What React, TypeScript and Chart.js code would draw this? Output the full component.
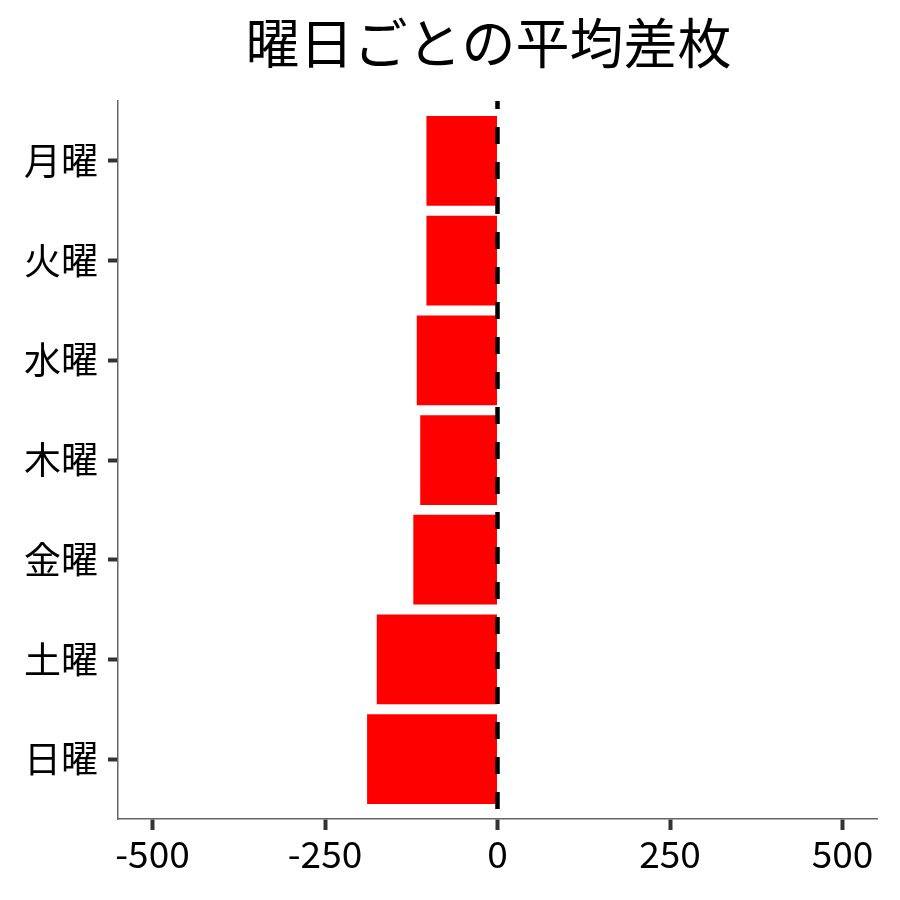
import React, { useEffect, useRef } from "react";
import { Chart, registerables } from "chart.js";

Chart.register(...registerables);

const TITLE = "曜日ごとの平均差枚";
const CATEGORIES = ["月曜", "火曜", "水曜", "木曜", "金曜", "土曜", "日曜"];
const VALUES = [-103, -103, -117, -112, -122, -175, -189];
const X_TICKS = [-500, -250, 0, 250, 500];
const X_MIN = -550;
const X_MAX = 550;
const REF_VALUE = 0;

const FONT = "'Noto Sans CJK JP', 'Noto Sans', sans-serif";

const refLinePlugin = {
  id: "refLine",
  afterDatasetsDraw(chart: any) {
    const { ctx, chartArea, scales } = chart;
    const x = scales.x.getPixelForValue(REF_VALUE);
    ctx.save();
    ctx.strokeStyle = "#000000";
    ctx.lineWidth = 4.5;
    ctx.setLineDash([17, 18]);
    ctx.lineDashOffset = 9;
    ctx.beginPath();
    ctx.moveTo(x, chartArea.top);
    ctx.lineTo(x, chartArea.bottom);
    ctx.stroke();
    ctx.restore();
  },
};

const panelTitlePlugin = {
  id: "panelTitle",
  afterDraw(chart: any) {
    const { ctx, chartArea } = chart;
    ctx.save();
    ctx.fillStyle = "#000000";
    ctx.font = `normal 54px ${FONT}`;
    ctx.textAlign = "center";
    ctx.textBaseline = "middle";
    ctx.fillText(TITLE, (chartArea.left + chartArea.right) / 2 - 9, 43);
    ctx.restore();
  },
};

export default function App() {
  const canvasRef = useRef<HTMLCanvasElement | null>(null);

  useEffect(() => {
    if (!canvasRef.current) return;
    const chart = new Chart(canvasRef.current, {
      type: "bar",
      data: {
        datasets: [
          {
            data: VALUES.map((v, i) => ({ x: v, y: i })),
            backgroundColor: "#FF0000",
            borderWidth: 0,
            categoryPercentage: 1,
            barPercentage: 0.9,
          },
        ],
      },
      options: {
        indexAxis: "y",
        animation: false,
        responsive: true,
        maintainAspectRatio: false,
        layout: { padding: { top: 101, right: 23, bottom: 0, left: 0 } },
        plugins: {
          legend: { display: false },
          tooltip: { enabled: false },
          title: { display: false },
        },
        scales: {
          x: {
            type: "linear",
            min: X_MIN,
            max: X_MAX,
            afterBuildTicks: (s: any) => {
              s.ticks = X_TICKS.map((v) => ({ value: v }));
            },
            afterFit: (s: any) => {
              s.height = 81;
            },
            ticks: {
              color: "#000000",
              font: { family: FONT, size: 37 },
              padding: 2,
              autoSkip: false,
              maxRotation: 0,
              callback: (v: any) => String(v),
            },
            grid: {
              display: true,
              drawOnChartArea: false,
              drawTicks: true,
              tickLength: 11,
              tickWidth: 4,
              tickColor: "#333333",
            },
            border: { display: true, color: "#666666", width: 1.5 },
          },
          y: {
            type: "linear",
            reverse: true,
            offset: false,
            min: -0.6,
            max: 6.6,
            afterBuildTicks: (s: any) => {
              s.ticks = CATEGORIES.map((_, i) => ({ value: i }));
            },
            afterFit: (s: any) => {
              s.width = 118;
            },
            ticks: {
              color: "#000000",
              font: { family: FONT, size: 37 },
              padding: 10,
              autoSkip: false,
              callback: (v: any) => CATEGORIES[v] ?? "",
            },
            grid: {
              display: true,
              offset: false,
              drawOnChartArea: false,
              drawTicks: true,
              tickLength: 10,
              tickWidth: 4,
              tickColor: "#333333",
            },
            border: { display: true, color: "#666666", width: 1.5 },
          },
        },
      },
      plugins: [refLinePlugin, panelTitlePlugin],
    } as any);
    return () => chart.destroy();
  }, []);

  return (
    <div
      style={{
        position: "absolute",
        left: 0,
        top: 0,
        width: 900,
        height: 900,
        background: "#ffffff",
      }}
    >
      <canvas ref={canvasRef} />
    </div>
  );
}
